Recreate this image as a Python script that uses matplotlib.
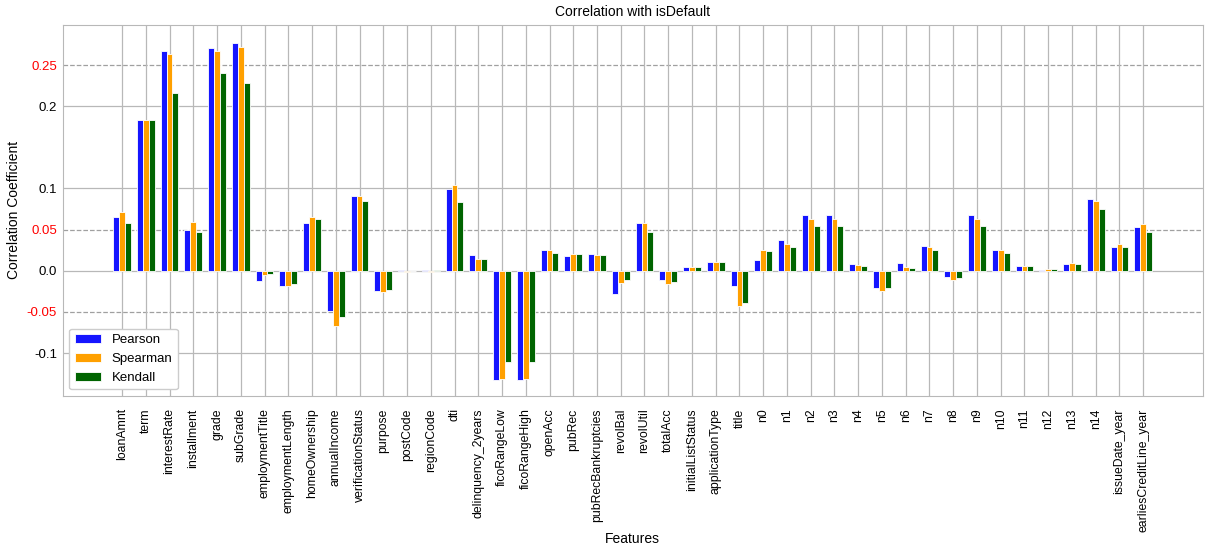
import matplotlib.pyplot as plt
import numpy as np

features = ["loanAmnt", "term", "interestRate", "installment", "grade", "subGrade",
            "employmentTitle", "employmentLength", "homeOwnership", "annualIncome",
            "verificationStatus", "purpose", "postCode", "regionCode", "dti",
            "delinquency_2years", "ficoRangeLow", "ficoRangeHigh", "openAcc", "pubRec",
            "pubRecBankruptcies", "revolBal", "revolUtil", "totalAcc", "initialListStatus",
            "applicationType", "title", "n0", "n1", "n2", "n3", "n4", "n5", "n6", "n7",
            "n8", "n9", "n10", "n11", "n12", "n13", "n14", "issueDate_year",
            "earliesCreditLine_year"]

pearson = [0.065, 0.1835, 0.267, 0.050, 0.271, 0.277,
           -0.0126, -0.0186, 0.0575, -0.0486,
           0.0904, -0.0247, 0.0005, 0.0008, 0.0997,
           0.0186, -0.1325, -0.1325, 0.0255, 0.0174,
           0.0207, -0.0284, 0.0583, -0.0118, 0.0049,
           0.0109, -0.0186, 0.013, 0.0369, 0.0681, 0.0681, 0.0081, -0.0207, 0.0097, 0.0304,
           -0.0077, 0.0681, 0.0255, 0.0057, 0.0012, 0.0077, 0.0871, 0.0284,
           0.0527]
spearman = [0.0713, 0.1835, 0.2638, 0.0596, 0.2674, 0.2723,
            -0.0057, -0.0186, 0.0656, -0.0677,
            0.0904, -0.0255, -0.002, -0.001, 0.1041,
            0.0142, -0.1317, -0.1317, 0.0255, 0.0207,
            0.0186, -0.0146, 0.0583, -0.0166, 0.0049,
            0.0109, -0.0429, 0.0251, 0.0324, 0.0632, 0.0632, 0.0069, -0.0247, 0.0041, 0.0292,
            -0.0109, 0.0632, 0.0255, 0.0057, 0.0024, 0.0097, 0.0851, 0.0324,
            0.0567]
kendall = [0.0583, 0.1835, 0.216, 0.0474, 0.2407, 0.2277,
           -0.0045, -0.0166, 0.0632, -0.0559,
           0.0851, -0.0231, 0.0003, 0.0006, 0.0839,
           0.0142, -0.1106, -0.1106, 0.0215, 0.0207,
           0.0186, -0.0118, 0.0474, -0.0138, 0.0049,
           0.0109, -0.0393, 0.0239, 0.0284, 0.0543, 0.0543, 0.0057, -0.0207, 0.0032, 0.0247,
           -0.0085, 0.0543, 0.0215, 0.0057, 0.002, 0.0085, 0.075, 0.0284,
           0.0466]

# solid grid ticks and dashed reference lines (red labels)
major_ticks = [-0.1, 0.0, 0.1, 0.2]
major_labels = ["-0.1", "0.0", "0.1", "0.2"]
dashed_ticks = [-0.05, 0.05, 0.25]
dashed_labels = ["-0.05", "0.05", "0.25"]

plt.rcParams["font.family"] = ["Liberation Sans", "DejaVu Sans"]

fig = plt.figure(figsize=(12.05, 5.49), dpi=100)
ax = fig.add_axes([0.052, 0.279, 0.946, 0.676])

x = np.arange(len(features))
w = 0.25
ax.bar(x - w, pearson, w, color="#1515ff", edgecolor="white", linewidth=0.6, label="Pearson", zorder=3)
ax.bar(x, spearman, w, color="#ffa000", edgecolor="white", linewidth=0.6, label="Spearman", zorder=3)
ax.bar(x + w, kendall, w, color="#006400", edgecolor="white", linewidth=0.6, label="Kendall", zorder=3)

ax.set_xlim(-2.5, len(features) + 1.5)
ax.set_ylim(-0.152, 0.299)
ax.set_xticks(x)
ax.set_xticklabels(features, rotation=90, fontsize=8.8)
ax.set_yticks(major_ticks)
ax.set_yticklabels(major_labels, fontsize=9.5)
ax.set_yticks(dashed_ticks, minor=True)
ax.set_yticklabels(dashed_labels, minor=True, fontsize=9.5, color="red")
ax.tick_params(axis="both", which="both", length=0)
ax.tick_params(axis="y", which="both", pad=4)
ax.tick_params(axis="x", pad=9)

ax.grid(True, which="major", color="#b8b8b8", linewidth=0.9, zorder=0)
for t in dashed_ticks:
    ax.axhline(t, color="#a0a0a0", linestyle="--", linewidth=0.9, zorder=1)

for s in ax.spines.values():
    s.set_color("#b8b8b8")

ax.set_title("Correlation with isDefault", fontsize=10)
ax.set_xlabel("Features", fontsize=10, labelpad=0)
ax.set_ylabel("Correlation Coefficient", fontsize=10)
ax.legend(loc="lower left", fontsize=9.5, framealpha=1, edgecolor="#cccccc")

fig.savefig("out.png", dpi=100)
